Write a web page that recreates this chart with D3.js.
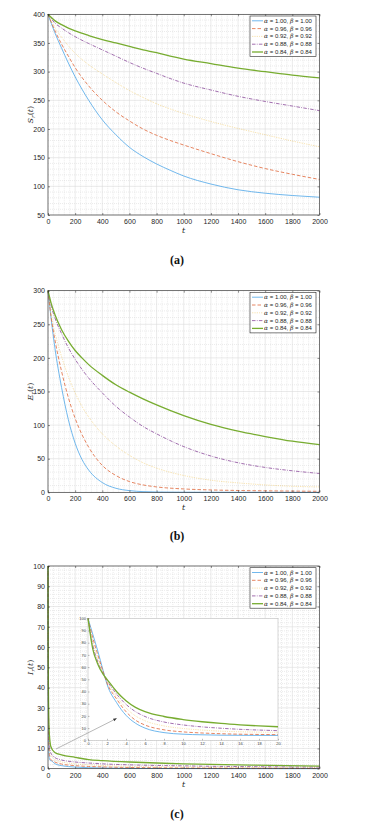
<!DOCTYPE html>
<html>
<head>
<meta charset="utf-8">
<script src="https://cdn.jsdelivr.net/npm/d3@7"></script>
<style>
  body { margin: 0; background: #fff; }
</style>
</head>
<body>
<script>
// series labels and styles order: alpha = beta = 1.00, 0.96, 0.92, 0.88, 0.84
const alphas = ["1.00", "0.96", "0.92", "0.88", "0.84"];
const colors = ["#4da6e8", "#e0673a", "#edb120", "#8a4a9a", "#77ac30"];

// panel (a) S_r(t)
const tA = [0, 50, 100, 150, 200, 300, 400, 500, 600, 700, 800, 900, 1000, 1200, 1400, 1600, 1800, 2000];
const sr100 = [400, 368, 341, 315, 291, 250, 216, 190, 168, 152, 139, 128, 118, 104, 94, 88, 84, 81];
const sr096 = [400, 372, 348, 327, 307, 275, 250, 230, 214, 200, 189, 180, 172, 157, 143, 131, 121, 112];
const sr092 = [400, 377, 360, 345, 332, 312, 296, 281, 267, 255, 244, 235, 227, 213, 201, 190, 179, 169];
const sr088 = [400, 385, 376, 368, 361, 349, 338, 327, 316, 306, 297, 288, 280, 268, 257, 248, 240, 232];
const sr084 = [400, 389, 382, 376, 371, 363, 356, 350, 344, 338, 333, 327, 322, 314, 306, 300, 294, 289];

// panel (b) E_r(t)
const tB = [0, 25, 50, 100, 150, 200, 250, 300, 400, 500, 600, 700, 800, 1000, 1200, 1400, 1600, 1800, 2000];
const er100 = [300, 255, 216, 156, 108, 73, 49, 33, 14.5, 6, 2.5, 1, 0.4, 0.1, 0, 0, 0, 0, 0];
const er096 = [300, 258, 228, 180, 141, 110, 86, 67, 40, 25, 16, 11, 8, 5, 3.5, 2.7, 2.2, 1.8, 1.5];
const er092 = [300, 262, 238, 202, 172, 148, 128, 112, 87, 69, 55, 44, 36, 25, 18, 14, 11, 9, 8];
const er088 = [300, 276, 260, 236, 215, 198, 183, 170, 148, 128, 112, 98, 87, 68, 54, 44, 37, 32, 28];
const er084 = [300, 280, 265, 242, 225, 211, 200, 190, 174, 160, 149, 139, 130, 114, 101, 91, 83, 76, 71];

// panel (c) I_r(t), early points also feed the inset
const tC = [0, 0.5, 1, 1.6, 2, 3, 4, 5, 6, 8, 10, 12, 14, 16, 18, 20, 50, 100, 200, 300, 400, 600, 800, 1000, 1200, 1500, 2000];
const ir100 = [100, 87, 74, 57, 46, 31, 20.5, 14, 10, 6.3, 5, 4.5, 4.2, 4.1, 4, 4, 2.5, 1.5, 0.8, 0.5, 0.35, 0.2, 0.12, 0.08, 0.05, 0.03, 0.02];
const ir096 = [100, 84, 71, 56, 47, 34, 23.5, 16.5, 12.5, 8.6, 6.9, 6, 5.4, 5, 4.8, 4.6, 3.3, 2.3, 1.5, 1.1, 0.9, 0.6, 0.45, 0.35, 0.3, 0.22, 0.15];
const ir092 = [100, 81, 68, 55, 48, 36, 26.5, 20, 16, 11.8, 9.7, 8.4, 7.5, 7, 6.7, 6.5, 4.5, 3.3, 2.4, 1.9, 1.6, 1.2, 0.95, 0.8, 0.7, 0.55, 0.4];
const ir088 = [100, 78, 65, 54.5, 49, 38, 29.5, 23.5, 19.5, 15, 12.6, 11, 9.9, 9, 8.4, 7.9, 5.5, 4.3, 3.3, 2.8, 2.4, 1.9, 1.6, 1.4, 1.2, 1.0, 0.8];
const ir084 = [100, 75, 63, 54, 50, 40, 32.5, 27, 23.5, 19.5, 17, 15.2, 13.8, 12.7, 11.8, 11.1, 8, 6.8, 5.6, 4.5, 4, 3.3, 2.8, 2.4, 2.1, 1.8, 1.3];

const xTicks = d3.range(0, 2001, 200);

const SANS = "'Liberation Sans', Arial, sans-serif";
const SERIF = "'DejaVu Serif', serif";

const W = 369, H = 821;
const svg = d3.select("body").append("svg")
  .attr("width", W).attr("height", H)
  .attr("viewBox", [0, 0, W, H])
  .style("font-family", SANS);

svg.append("defs").append("marker")
  .attr("id", "arrow").attr("viewBox", "0 0 10 10")
  .attr("refX", 9).attr("refY", 5)
  .attr("markerWidth", 6).attr("markerHeight", 6)
  .attr("orient", "auto")
  .append("path").attr("d", "M0,1 L10,5 L0,9 z").attr("fill", "#333");

function dash(i) {
  return [null, "3.5,2", "0.6,1.2", "3.5,1.3,0.8,1.3", null][i];
}
function width(i) {
  return [0.8, 0.8, 0.8, 0.8, 1.3][i];
}
function opac(i) {
  return [1, 1, 0.7, 1, 1][i];
}

function drawPanel(p) {
  const x = d3.scaleLinear().domain([0, 2000]).range([48, 319.5]);
  const y = d3.scaleLinear().domain(p.yDomain).range([p.bottom, p.top]);
  const g = svg.append("g");

  // minor grid
  const xMinor = d3.range(0, 2001, 40).filter(v => v % 200 != 0);
  const yMinor = d3.range(p.yDomain[0], p.yDomain[1] + 0.001, p.yMinor).filter(v => Math.abs((v - p.yDomain[0]) % p.yStep) > 0.001);
  g.append("g").selectAll("line").data(xMinor).join("line")
    .attr("x1", d => x(d)).attr("x2", d => x(d)).attr("y1", p.top).attr("y2", p.bottom)
    .attr("stroke", "#d6d6d6").attr("stroke-width", 0.5).attr("stroke-dasharray", "1,1");
  g.append("g").selectAll("line").data(yMinor).join("line")
    .attr("y1", d => y(d)).attr("y2", d => y(d)).attr("x1", 48).attr("x2", 319.5)
    .attr("stroke", "#d6d6d6").attr("stroke-width", 0.5).attr("stroke-dasharray", "1,1");
  // major grid
  g.append("g").selectAll("line").data(xTicks).join("line")
    .attr("x1", d => x(d)).attr("x2", d => x(d)).attr("y1", p.top).attr("y2", p.bottom)
    .attr("stroke", "#dcdcdc").attr("stroke-width", 0.6);
  g.append("g").selectAll("line").data(p.yTicks).join("line")
    .attr("y1", d => y(d)).attr("y2", d => y(d)).attr("x1", 48).attr("x2", 319.5)
    .attr("stroke", "#dcdcdc").attr("stroke-width", 0.6);

  // curves
  const line = d3.line().x(d => x(d[0])).y(d => y(d[1])).curve(d3.curveMonotoneX);
  p.series.forEach((s, i) => {
    g.append("path")
      .datum(p.t.map((t, k) => [t, s[k]]))
      .attr("d", line)
      .attr("fill", "none")
      .attr("stroke", colors[i])
      .attr("stroke-opacity", opac(i))
      .attr("stroke-width", width(i))
      .attr("stroke-dasharray", dash(i));
  });

  // axes
  const fmt = d3.format("d");
  g.append("g").attr("transform", `translate(0,${p.bottom})`)
    .call(d3.axisBottom(x).tickValues(xTicks).tickSize(-2).tickPadding(4).tickFormat(fmt))
    .call(a => a.select(".domain").remove());
  g.append("g").attr("transform", `translate(0,${p.top})`)
    .call(d3.axisTop(x).tickValues(xTicks).tickSize(-2).tickFormat(""))
    .call(a => a.select(".domain").remove());
  g.append("g").attr("transform", `translate(48,0)`)
    .call(d3.axisLeft(y).tickValues(p.yTicks).tickSize(-2).tickPadding(3).tickFormat(fmt))
    .call(a => a.select(".domain").remove());
  g.append("g").attr("transform", `translate(319.5,0)`)
    .call(d3.axisRight(y).tickValues(p.yTicks).tickSize(-2).tickFormat(""))
    .call(a => a.select(".domain").remove());
  g.selectAll(".tick line").attr("stroke", "#262626").attr("stroke-width", 0.5);
  g.selectAll(".tick text").attr("fill", "#262626").attr("font-size", 7)
    .style("font-family", SANS);

  g.append("rect").attr("x", 48).attr("y", p.top)
    .attr("width", 319.5 - 48).attr("height", p.bottom - p.top)
    .attr("fill", "none").attr("stroke", "#262626").attr("stroke-width", 0.6);

  // axis labels
  const yl = g.append("text")
    .attr("transform", `translate(33,${(p.top + p.bottom) / 2}) rotate(-90)`)
    .attr("text-anchor", "middle").attr("font-size", 8).attr("fill", "#262626")
    .style("font-family", SERIF);
  yl.append("tspan").attr("font-style", "italic").text(p.yName);
  yl.append("tspan").attr("font-style", "italic").attr("font-size", 5.5).attr("dy", 1.5).text("r");
  yl.append("tspan").attr("dy", -1.5).text("(");
  yl.append("tspan").attr("font-style", "italic").text("t");
  yl.append("tspan").text(")");

  g.append("text").attr("x", 183.5).attr("y", p.bottom + 18)
    .attr("text-anchor", "middle").attr("font-size", 8).attr("font-style", "italic")
    .attr("fill", "#262626").style("font-family", SERIF).text("t");

  if (p.inset) p.inset(g);

  // legend
  const lx = 250, ly = p.top + 1.7;
  const lg = g.append("g");
  lg.append("rect").attr("x", lx).attr("y", ly).attr("width", 66).attr("height", 40.5)
    .attr("fill", "#fff").attr("stroke", "#262626").attr("stroke-width", 0.6);
  alphas.forEach((a, i) => {
    const cy = ly + 4.8 + i * 7.8;
    lg.append("line").attr("x1", lx + 2).attr("x2", lx + 13).attr("y1", cy).attr("y2", cy)
      .attr("stroke", colors[i]).attr("stroke-opacity", opac(i))
      .attr("stroke-width", width(i)).attr("stroke-dasharray", dash(i));
    const tx = lg.append("text").attr("x", lx + 14).attr("y", cy + 2)
      .attr("font-size", 6).attr("fill", "#262626").style("font-family", SANS);
    tx.append("tspan").attr("font-style", "italic").style("font-family", SERIF).text("α");
    tx.append("tspan").text(` = ${a}, `);
    tx.append("tspan").attr("font-style", "italic").style("font-family", SERIF).text("β");
    tx.append("tspan").text(` = ${a}`);
  });

  // caption
  svg.append("text").attr("x", 177).attr("y", p.caption)
    .attr("text-anchor", "middle").attr("font-size", 12).attr("font-weight", "bold")
    .style("font-family", "'Liberation Serif', 'Times New Roman', serif").attr("fill", "#111")
    .text(p.label);
}

drawPanel({
  top: 14.3, bottom: 215, yDomain: [50, 400], yStep: 50, yMinor: 10,
  yTicks: d3.range(50, 401, 50), t: tA, series: [sr100, sr096, sr092, sr088, sr084],
  yName: "S", caption: 264, label: "(a)"
});

drawPanel({
  top: 290.7, bottom: 492.3, yDomain: [0, 300], yStep: 50, yMinor: 10,
  yTicks: d3.range(0, 301, 50), t: tB, series: [er100, er096, er092, er088, er084],
  yName: "E", caption: 540, label: "(b)"
});

drawPanel({
  top: 566, bottom: 768.7, yDomain: [0, 100], yStep: 10, yMinor: 2,
  yTicks: d3.range(0, 101, 10), t: tC, series: [ir100, ir096, ir092, ir088, ir084],
  yName: "I", caption: 818, label: "(c)",
  inset: g => {
    const ix = d3.scaleLinear().domain([0, 20]).range([88, 278]);
    const iy = d3.scaleLinear().domain([0, 100]).range([740.3, 618.3]);
    const ig = g.append("g");
    ig.append("rect").attr("x", 88).attr("y", 618.3).attr("width", 190).attr("height", 122)
      .attr("fill", "#fff").attr("stroke", "#bdbdbd").attr("stroke-width", 0.6);
    const idx = tC.map((t, k) => k).filter(k => tC[k] <= 20);
    const line = d3.line().x(d => ix(d[0])).y(d => iy(d[1])).curve(d3.curveMonotoneX);
    [ir100, ir096, ir092, ir088, ir084].forEach((s, i) => {
      ig.append("path").datum(idx.map(k => [tC[k], s[k]])).attr("d", line)
        .attr("fill", "none").attr("stroke", colors[i]).attr("stroke-opacity", opac(i))
        .attr("stroke-width", width(i)).attr("stroke-dasharray", dash(i));
    });
    ig.append("g").attr("transform", "translate(0,740.3)")
      .call(d3.axisBottom(ix).tickValues(d3.range(0, 21, 2)).tickSize(-1.5).tickPadding(2))
      .call(a => a.select(".domain").remove());
    ig.append("g").attr("transform", "translate(88,0)")
      .call(d3.axisLeft(iy).tickValues(d3.range(0, 101, 10)).tickSize(-1.5).tickPadding(2))
      .call(a => a.select(".domain").remove());
    ig.selectAll(".tick line").attr("stroke", "#555").attr("stroke-width", 0.4);
    ig.selectAll(".tick text").attr("font-size", 4).attr("fill", "#444").style("font-family", SANS);
    // arrow
    g.append("line").attr("x1", 56).attr("y1", 749).attr("x2", 116.5).attr("y2", 718.5)
      .attr("stroke", "#888").attr("stroke-width", 0.6).attr("marker-end", "url(#arrow)");
  }
});
</script>
</body>
</html>
